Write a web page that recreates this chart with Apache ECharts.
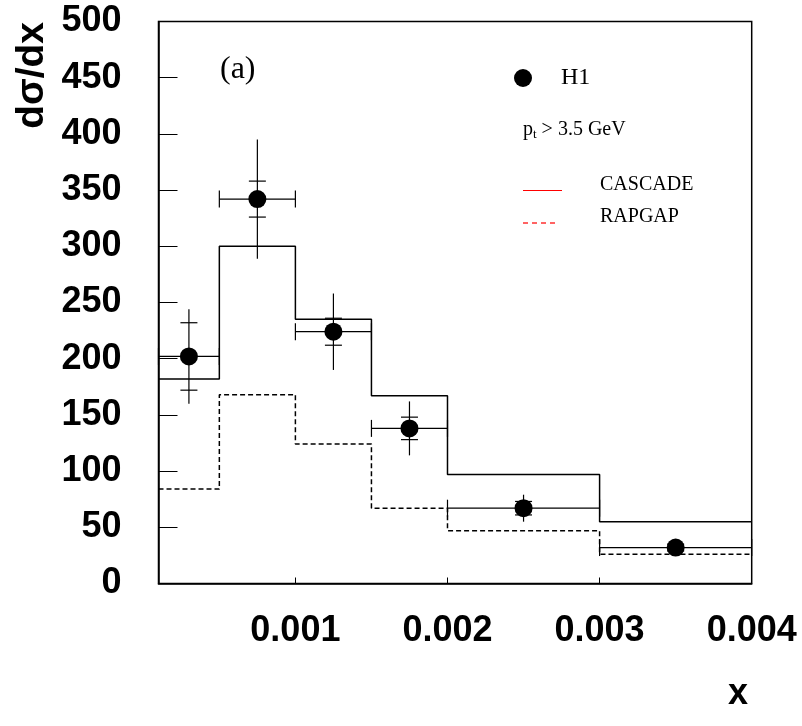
<!DOCTYPE html>
<html>
<head>
<meta charset="utf-8">
<script src="https://cdn.jsdelivr.net/npm/echarts@6/dist/echarts.min.js"></script>
<style>
html,body{margin:0;padding:0;background:#fff;}
#main{width:802px;height:726px;}
</style>
</head>
<body>
<div id="main"></div>
<script>
// ---- data ----
const binEdges = [0.0001, 0.0005, 0.001, 0.0015, 0.002, 0.003, 0.004];
const cascade  = [182, 300, 235, 167, 97, 55];
const rapgap   = [84, 168, 124, 67, 47, 26];
const h1X      = [0.0003, 0.00075, 0.00125, 0.00175, 0.0025, 0.0035];
const h1Y      = [202, 342, 224, 138, 67, 32];
const h1Stat   = [30, 16, 12, 10, 6, 3];
const h1Tot    = [42, 53, 34, 24, 12, 5];
const xTicks   = [0.001, 0.002, 0.003, 0.004];
const xTickLabels = ['0.001', '0.002', '0.003', '0.004'];
const yTickLabels = ['0','50','100','150','200','250','300','350','400','450','500'];

// ---- build ----
function histData(vals){
  return binEdges.map((e,i)=>[e, vals[Math.min(i, vals.length-1)]]);
}
const h1Data = h1X.map((x,i)=>[x, h1Y[i], binEdges[i], binEdges[i+1], h1Stat[i], h1Tot[i]]);

const chart = echarts.init(document.getElementById('main'), null, {renderer:'canvas'});
const gridL = 158.5, gridT = 21.5, gridR = 802-751.7, gridB = 726-583.5;

const option = {
  animation:false,
  backgroundColor:'#fff',
  grid:{left:gridL, top:gridT, right:gridR, bottom:gridB, show:true, borderColor:'#000', borderWidth:1.5, containLabel:false},
  xAxis:{
    type:'value', min:binEdges[0], max:binEdges[binEdges.length-1],
    splitLine:{show:false},
    axisLine:{lineStyle:{color:'#000', width:1.5}},
    axisTick:{inside:true, length:6, customValues:xTicks, lineStyle:{color:'#000', width:1}},
    axisLabel:{customValues:xTicks, margin:30, color:'#000', fontFamily:'Liberation Sans', fontWeight:'bold', fontSize:36,
      formatter:(v)=>{const i = xTicks.findIndex(t=>Math.abs(t-v)<1e-9); return i>=0?xTickLabels[i]:'';}}
  },
  yAxis:{
    type:'value', min:0, max:500, interval:50,
    splitLine:{show:false},
    axisLine:{lineStyle:{color:'#000', width:1.5}},
    axisTick:{inside:true, length:19, lineStyle:{color:'#000', width:1}},
    axisLabel:{margin:37, color:'#000', fontFamily:'Liberation Sans', fontWeight:'bold', fontSize:36,
      showMinLabel:true, showMaxLabel:true,
      formatter:(v)=>yTickLabels[Math.round(v/50)]}
  },
  series:[
    {name:'CASCADE', type:'line', step:'end', data:histData(cascade), symbol:'none',
      lineStyle:{color:'#000', width:1.5, type:'solid'}, z:2},
    {name:'RAPGAP', type:'line', step:'end', data:histData(rapgap), symbol:'none',
      lineStyle:{color:'#000', width:1.5, type:[5,3]}, z:2},
    {name:'H1', type:'custom', data:h1Data, clip:false, z:5,
      encode:{x:0, y:1},
      renderItem:function(params, api){
        const xc=api.value(0), y=api.value(1), xl=api.value(2), xh=api.value(3), s=api.value(4), t=api.value(5);
        const pc=api.coord([xc,y]);
        const pl=api.coord([xl,y]), ph=api.coord([xh,y]);
        const pst=api.coord([xc,y+s]), psb=api.coord([xc,y-s]);
        const ptt=api.coord([xc,y+t]), ptb=api.coord([xc,y-t]);
        const cap=8.5;
        const st={stroke:'#000', lineWidth:1.2};
        const L=(x1,y1,x2,y2)=>({type:'line', shape:{x1,y1,x2,y2}, style:st});
        return {type:'group', children:[
          L(pl[0],pl[1],ph[0],ph[1]),
          L(pl[0],pl[1]-cap,pl[0],pl[1]+cap),
          L(ph[0],ph[1]-cap,ph[0],ph[1]+cap),
          L(ptt[0],ptt[1],ptb[0],ptb[1]),
          L(pst[0]-cap,pst[1],pst[0]+cap,pst[1]),
          L(psb[0]-cap,psb[1],psb[0]+cap,psb[1]),
          {type:'circle', shape:{cx:pc[0], cy:pc[1], r:9}, style:{fill:'#000'}}
        ]};
      }
    }
  ],
  graphic:[
    {type:'text', left:13, top:22, rotation:Math.PI/2, originX:0, originY:0,
      style:{text:'dσ/dx', font:'bold 39px "Liberation Sans"', fill:'#000'}},
    {type:'text', x:728, y:676, style:{text:'x', font:'bold 36px "Liberation Sans"', fill:'#000'}},
    {type:'text', x:220, y:70, style:{text:'(a)', font:'32px "Liberation Serif"', fill:'#000', verticalAlign:'middle'}},
    {type:'circle', shape:{cx:523, cy:78, r:9}, style:{fill:'#000'}},
    {type:'text', x:561, y:78, style:{text:'H1', font:'24px "Liberation Serif"', fill:'#000', verticalAlign:'middle'}},
    {type:'text', x:523, y:130, style:{text:'{p|p}{s|t}{p| > 3.5 GeV}', fill:'#000', verticalAlign:'middle',
      rich:{p:{font:'20px "Liberation Serif"', fill:'#000'}, s:{font:'13px "Liberation Serif"', fill:'#000', verticalAlign:'bottom', padding:[10,0,0,0]}}}},
    {type:'line', shape:{x1:523, y1:190.5, x2:562, y2:190.5}, style:{stroke:'#ff0000', lineWidth:1}},
    {type:'line', shape:{x1:523, y1:223, x2:556, y2:223}, style:{stroke:'#ff3030', lineWidth:1.4, lineDash:[5,4]}},
    {type:'text', x:600, y:185, style:{text:'CASCADE', font:'20px "Liberation Serif"', fill:'#000', verticalAlign:'middle'}},
    {type:'text', x:600, y:217, style:{text:'RAPGAP', font:'20px "Liberation Serif"', fill:'#000', verticalAlign:'middle'}}
  ]
};
chart.setOption(option);
</script>
</body>
</html>
